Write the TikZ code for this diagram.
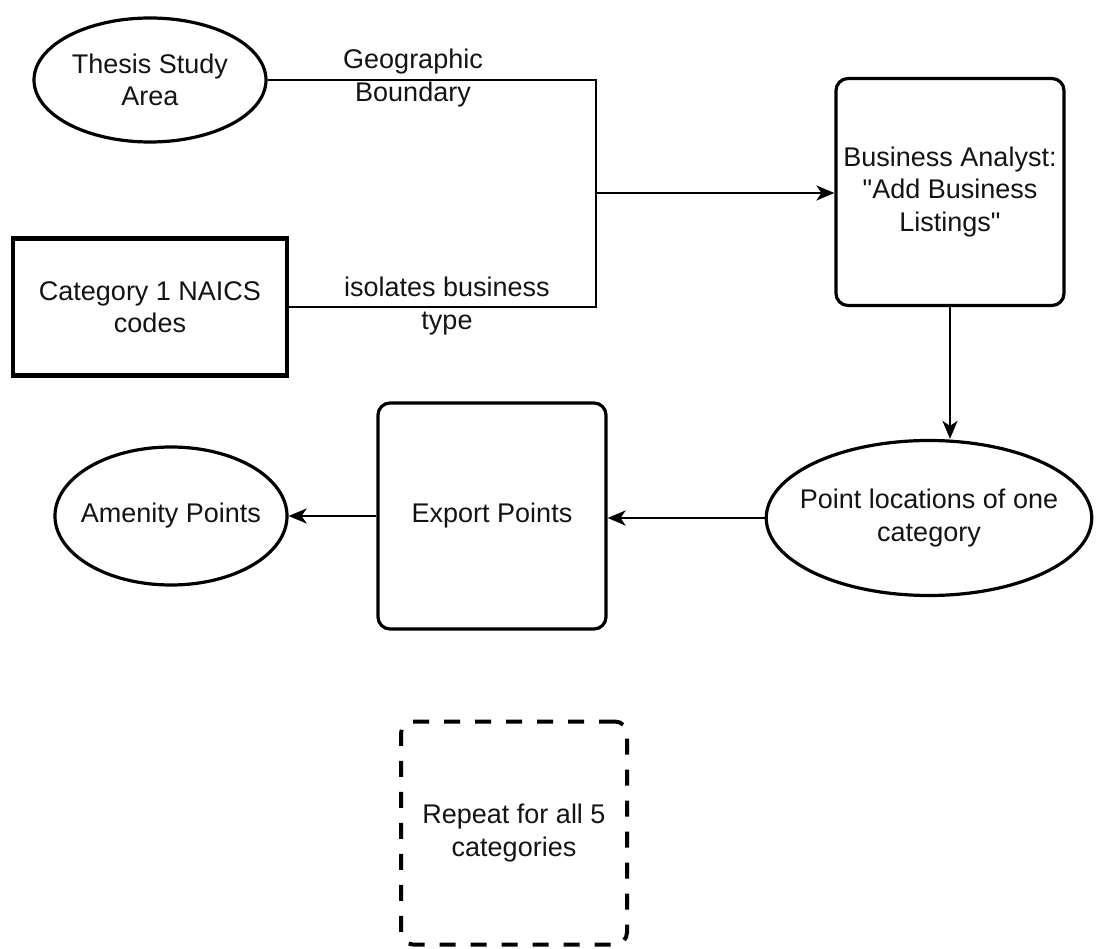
\documentclass[tikz,border=0pt]{standalone}
\usepackage{fontspec}
\setmainfont{Liberation Sans}[Ligatures=TeXOff]
\usetikzlibrary{shapes.geometric,arrows.meta}
\begin{document}
\begin{tikzpicture}[x=1pt,y=-1pt,
  every node/.style={font=\fontsize{27}{32.5}\selectfont, text=black!92, align=center},
  ell/.style={draw, ellipse, line width=3.2pt, inner sep=0pt},
  rbox/.style={draw, rectangle, rounded corners=12pt, line width=3.2pt, inner sep=0pt},
  sbox/.style={draw, rectangle, line width=4.5pt, inner sep=0pt},
  dbox/.style={draw, rectangle, rounded corners=12pt, line width=4pt, dash pattern=on 16pt off 15pt, inner sep=0pt},
  conn/.style={draw, line width=2pt},
  arr/.style={conn, -{Stealth[length=18pt,width=15pt,inset=5pt]}},
  lbl/.style={inner sep=0pt}]
\useasboundingbox (0,0) rectangle (1104,949);
\node[ell, minimum width=232pt, minimum height=124pt] (thesis) at (150,80) {Thesis Study\\Area};
\node[sbox, minimum width=274pt, minimum height=137pt] (cat) at (150,307) {Category 1 NAICS\\codes};
\node[rbox, minimum width=228pt, minimum height=227pt] (ba) at (950,192) {Business Analyst:\\"Add Business\\Listings"};
\node[ell, inner xsep=-14pt, minimum width=322pt, minimum height=155pt] (pl) at (929,518) {Point locations of one\\category};
\node[rbox, minimum width=228pt, minimum height=226pt] (exp) at (492,516) {Export Points};
\node[ell, inner xsep=-8pt, minimum width=230pt, minimum height=138pt] (am) at (171,516) {Amenity Points};
\node[dbox, minimum width=226pt, minimum height=223pt] (rep) at (514,833) {Repeat for all 5\\categories};
\coordinate (j) at (596,193);
\draw[conn] (thesis.east) -| (j);
\draw[conn] (cat.east) -| (j);
\draw[arr] (j) -- (ba.west |- j);
\draw[arr] (ba.south) -- (ba.south |- pl.north);
\draw[arr] (pl.west) -- (pl.west -| exp.east);
\draw[arr] (exp.west) -- (exp.west -| am.east);
\node[lbl] (geo) at (413,78) {Geographic\\Boundary};
\node[lbl] (iso) at (447,306) {isolates business\\type};
\end{tikzpicture}
\end{document}
